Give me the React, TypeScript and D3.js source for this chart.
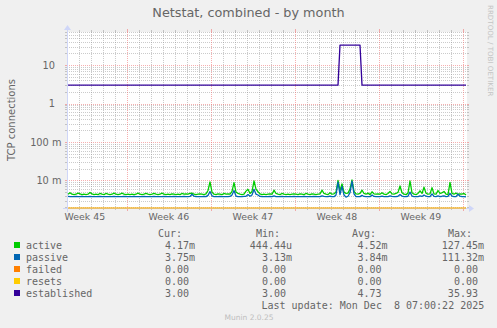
import React from 'react';
import * as d3 from 'd3';

// ---------- data ----------
// samples 4h apart, 200 samples across the month window
const ACTIVE_M = [
  4.4,4.8,4.4,4.3,4.4,4.7,4.5,4.3,4.4,4.3, 4.4,4.9,4.5,4.3,4.4,4.3,4.6,4.4,4.3,4.6,
  4.4,4.3,4.4,4.7,4.4,4.3,4.4,4.7,4.4,4.3, 4.4,4.3,4.4,4.3,4.4,4.7,4.4,4.3,4.4,4.6,
  4.4,4.3,4.4,4.6,4.4,4.3,4.4,4.7,4.4,4.3, 4.4,4.3,4.5,4.4,4.3,4.4,4.3,4.6,4.4,4.5,
  4.4,4.6,4.7,4.4,4.3,4.4,4.5,4.4,4.3,4.5, 5.5,9.2,5.0,4.4,4.3,4.5,4.4,4.3,4.6,4.4,
  4.5,4.4,5.2,8.8,5.0,4.6,4.4,4.3,4.4,5.3, 5.9,4.6,5.2,9.7,6.0,5.1,4.5,4.3,4.4,4.3,
  4.4,4.5,4.4,5.6,4.6,4.4,4.3,4.6,4.4,4.3, 4.4,4.3,4.4,4.5,4.4,4.3,4.5,4.4,4.3,4.6,
  4.4,4.3,4.5,4.4,4.3,4.4,4.5,5.6,4.6,4.4, 4.3,4.8,4.4,4.5,5.0,10.0,5.5,8.2,5.0,4.6,
  4.7,6.0,10.3,5.2,4.5,4.4,4.6,5.6,4.6,4.4, 4.7,4.3,5.1,4.5,4.4,4.5,4.4,4.8,4.4,4.3,
  4.6,5.2,4.5,4.4,4.6,4.9,7.2,4.8,4.4,4.3, 4.7,9.7,4.8,4.4,4.3,4.6,5.4,4.6,6.7,4.7,
  4.4,4.5,6.5,4.5,4.4,5.5,4.6,4.8,5.2,4.4, 4.3,8.9,4.6,4.4,4.7,4.4,4.5,4.4,4.6,4.17,
];

const PASSIVE_M = [
  3.85,3.80,3.82,3.80,3.85,3.80,3.80,3.84,3.80,3.82, 3.80,3.85,3.80,3.82,3.80,3.80,3.85,3.80,3.82,3.80,
  3.80,3.82,3.80,3.85,3.80,3.80,3.82,3.80,3.85,3.80, 3.82,3.80,3.80,3.85,3.80,3.82,3.80,3.80,3.84,3.80,
  3.80,3.82,3.80,3.85,3.80,3.80,3.82,3.80,3.85,3.80, 3.82,3.80,3.80,3.85,3.80,3.82,3.80,3.80,3.84,3.80,
  3.80,3.85,4.40,3.90,3.80,3.82,3.80,3.80,3.85,3.80, 4.10,5.20,4.00,3.80,3.82,3.80,3.85,3.80,3.80,3.82,
  3.80,3.85,4.20,5.50,3.95,3.80,3.82,3.80,3.85,3.90, 4.30,3.90,4.20,5.90,4.40,4.20,3.85,3.80,3.82,3.80,
  3.80,3.85,3.80,4.00,3.82,3.80,3.80,3.85,3.80,3.82, 3.80,3.82,3.80,3.85,3.80,3.80,3.82,3.80,3.85,3.80,
  3.80,3.82,3.80,3.85,3.80,3.82,3.80,4.00,3.85,3.80, 3.80,3.90,3.82,3.80,4.20,9.00,4.30,7.00,4.20,3.70,
  3.90,4.80,9.60,4.50,3.80,3.82,3.80,4.10,3.85,3.80, 3.82,3.80,4.20,3.85,3.80,3.82,3.80,3.90,3.80,3.82,
  3.80,4.00,3.85,3.80,3.82,3.90,4.30,3.95,3.80,3.82, 3.90,5.00,3.95,3.80,3.82,3.80,4.00,3.85,4.20,3.90,
  3.80,3.82,4.50,3.85,3.80,4.00,3.82,3.90,4.00,3.80, 3.85,4.60,3.90,3.80,3.82,4.40,3.90,3.80,3.82,3.75,
];

const FAILED = [
  0,0,0,0,0,0,0,0,0,0,0,0,0,0,0,0,0,0,0,0, 0,0,0,0,0,0,0,0,0,0,0,0,0,0,0,0,0,0,0,0,
  0,0,0,0,0,0,0,0,0,0,0,0,0,0,0,0,0,0,0,0, 0,0,0,0,0,0,0,0,0,0,0,0,0,0,0,0,0,0,0,0,
  0,0,0,0,0,0,0,0,0,0,0,0,0,0,0,0,0,0,0,0, 0,0,0,0,0,0,0,0,0,0,0,0,0,0,0,0,0,0,0,0,
  0,0,0,0,0,0,0,0,0,0,0,0,0,0,0,0,0,0,0,0, 0,0,0,0,0,0,0,0,0,0,0,0,0,0,0,0,0,0,0,0,
  0,0,0,0,0,0,0,0,0,0,0,0,0,0,0,0,0,0,0,0, 0,0,0,0,0,0,0,0,0,0,0,0,0,0,0,0,0,0,0,0,
];
const RESETS = [
  0,0,0,0,0,0,0,0,0,0,0,0,0,0,0,0,0,0,0,0, 0,0,0,0,0,0,0,0,0,0,0,0,0,0,0,0,0,0,0,0,
  0,0,0,0,0,0,0,0,0,0,0,0,0,0,0,0,0,0,0,0, 0,0,0,0,0,0,0,0,0,0,0,0,0,0,0,0,0,0,0,0,
  0,0,0,0,0,0,0,0,0,0,0,0,0,0,0,0,0,0,0,0, 0,0,0,0,0,0,0,0,0,0,0,0,0,0,0,0,0,0,0,0,
  0,0,0,0,0,0,0,0,0,0,0,0,0,0,0,0,0,0,0,0, 0,0,0,0,0,0,0,0,0,0,0,0,0,0,0,0,0,0,0,0,
  0,0,0,0,0,0,0,0,0,0,0,0,0,0,0,0,0,0,0,0, 0,0,0,0,0,0,0,0,0,0,0,0,0,0,0,0,0,0,0,0,
];

const ESTABLISHED = [
  3,3,3,3,3,3,3,3,3,3,3,3,3,3,3,3,3,3,3,3, 3,3,3,3,3,3,3,3,3,3,3,3,3,3,3,3,3,3,3,3,
  3,3,3,3,3,3,3,3,3,3,3,3,3,3,3,3,3,3,3,3, 3,3,3,3,3,3,3,3,3,3,3,3,3,3,3,3,3,3,3,3,
  3,3,3,3,3,3,3,3,3,3,3,3,3,3,3,3,3,3,3,3, 3,3,3,3,3,3,3,3,3,3,3,3,3,3,3,3,3,3,3,3,
  3,3,3,3,3,3,3,3,3,3,3,3,3,3,3,3,33,33,33,33, 33,33,33,33,33,33,33,3,3,3,3,3,3,3,3,3,3,3,3,3,
  3,3,3,3,3,3,3,3,3,3,3,3,3,3,3,3,3,3,3,3, 3,3,3,3,3,3,3,3,3,3,3,3,3,3,3,3,3,3,3,3,
];

const WEEK_LABELS = ['Week 45', 'Week 46', 'Week 47', 'Week 48', 'Week 49'];
const Y_TICK_VALUES = [10, 1, 0.1, 0.01];
const Y_TICK_LABELS = ['10', '1', '100 m', '10 m'];

const SERIES_NAMES = ['active', 'passive', 'failed', 'resets', 'established'];
const SERIES_COLORS = ['#00CC00', '#0066B3', '#FF8000', '#FFCC00', '#330099'];
const CUR = ['4.17m', '3.75m', '0.00', '0.00', '3.00'];
const MIN = ['444.44u', '3.13m', '0.00', '0.00', '3.00'];
const AVG = ['4.52m', '3.84m', '0.00', '0.00', '4.73'];
const MAX = ['127.45m', '111.32m', '0.00', '0.00', '35.93'];

const TITLE = 'Netstat, combined - by month';
const Y_LABEL = 'TCP connections';
const LAST_UPDATE = 'Last update: Mon Dec  8 07:00:22 2025';
const WATERMARK = 'RRDTOOL / TOBI OETIKER';
const MUNIN = 'Munin 2.0.25';

// ---------- layout ----------
const W = 497, H = 328;
const X0 = 67, X1 = 467, Y0 = 208, Y1 = 32;
const HOUR = 3600 * 1000;
const T0 = Date.UTC(2025, 10, 5, 0, 20);
const T1 = T0 + 800 * HOUR;
const STEP = 4 * HOUR;
const YMIN = 0.00193, YMAX = 72;

const SANS = 'DejaVu Sans, sans-serif';
const MONO = 'DejaVu Sans Mono, monospace';
const FONT_COL = '#666666';
const GRID = 'rgba(140,140,140,0.45)';
const MGRID = 'rgba(240,110,110,0.55)';
const AXIS = '#CFD6F8';

export default function App() {
  const x = d3.scaleUtc().domain([T0, T1]).range([X0, X1]);
  const y = d3.scaleLog().domain([YMIN, YMAX]).range([Y0, Y1]);
  const times = ACTIVE_M.map((_, i) => T0 + (i + 0.5) * STEP);

  const line = d3
    .line<number>()
    .x((_, i) => x(times[i]))
    .y((v) => y(Math.max(v, YMIN)));

  const seriesValues = [
    ACTIVE_M.map((v) => v / 1000),
    PASSIVE_M.map((v) => v / 1000),
    FAILED,
    RESETS,
    ESTABLISHED,
  ];

  // horizontal grid (log)
  const hMinor: number[] = [];
  const hMajor: number[] = [];
  for (let e = -3; e <= 1; e++) {
    for (let k = 1; k <= 9; k++) {
      const v = k * Math.pow(10, e);
      if (v < YMIN || v > YMAX) continue;
      (k === 1 ? hMajor : hMinor).push(Math.round(y(v)));
    }
  }
  // vertical grid
  const days = d3.utcDay.range(new Date(T0), new Date(T1)).map((d) => Math.round(x(d)));
  const mondays = d3.utcMonday.range(new Date(Date.UTC(2025, 10, 3)), new Date(T1));
  const weekLines = mondays.map((d) => Math.round(x(d))).filter((px) => px > X0 && px <= X1);
  const dayLines = days.filter((px) => px > X0 && !weekLines.includes(px));

  const valueX = [195, 292, 387.5, 484];
  const headerX = [158, 256, 352, 448];
  const headers = ['Cur:', 'Min:', 'Avg:', 'Max:'];
  const cols = [CUR, MIN, AVG, MAX];
  const hasUnit = (s: string) => /[a-zA-Z]$/.test(s);

  return (
    <svg width={W} height={H} style={{ display: 'block', position: 'absolute', left: 0, top: 0 }}>
      <rect x={0} y={0} width={W} height={H} fill="#F0F0F0" />
      <rect x={X0} y={Y1} width={X1 - X0} height={Y0 - Y1} fill="#FFFFFF" />

      {/* grid */}
      <g shapeRendering="crispEdges" strokeWidth={1}>
        {hMinor.map((py, i) => (
          <g key={'hm' + i}>
            <line x1={X0} x2={X1} y1={py + 0.5} y2={py + 0.5} stroke={GRID} strokeDasharray="1,1" />
            <line x1={X0 - 2} x2={X0} y1={py + 0.5} y2={py + 0.5} stroke={GRID} />
            <line x1={X1} x2={X1 + 2} y1={py + 0.5} y2={py + 0.5} stroke={GRID} />
          </g>
        ))}
        {dayLines.map((px, i) => (
          <g key={'vm' + i}>
            <line x1={px + 0.5} x2={px + 0.5} y1={Y1} y2={Y0} stroke={GRID} strokeDasharray="1,1" />
            <line x1={px + 0.5} x2={px + 0.5} y1={Y0} y2={Y0 + 2} stroke={GRID} />
            <line x1={px + 0.5} x2={px + 0.5} y1={Y1 - 2} y2={Y1} stroke={GRID} />
          </g>
        ))}
        {hMajor.map((py, i) => (
          <g key={'hM' + i}>
            <line x1={X0} x2={X1} y1={py + 0.5} y2={py + 0.5} stroke={MGRID} strokeDasharray="1,1" />
            <line x1={X0 - 2} x2={X0} y1={py + 0.5} y2={py + 0.5} stroke={MGRID} />
            <line x1={X1} x2={X1 + 2} y1={py + 0.5} y2={py + 0.5} stroke={MGRID} />
          </g>
        ))}
        {weekLines.map((px, i) => (
          <g key={'vM' + i}>
            <line x1={px + 0.5} x2={px + 0.5} y1={Y1} y2={Y0} stroke={MGRID} strokeDasharray="1,1" />
            <line x1={px + 0.5} x2={px + 0.5} y1={Y0} y2={Y0 + 3} stroke={MGRID} />
            <line x1={px + 0.5} x2={px + 0.5} y1={Y1 - 3} y2={Y1} stroke={MGRID} />
          </g>
        ))}
      </g>

      {/* axes */}
      <line x1={X0 - 4} x2={X1 + 4} y1={Y0 + 0.5} y2={Y0 + 0.5} stroke={AXIS} strokeWidth={1} shapeRendering="crispEdges" />
      <line x1={X0 + 0.5} x2={X0 + 0.5} y1={Y0 + 4} y2={Y1 - 4} stroke={AXIS} strokeWidth={1} shapeRendering="crispEdges" />
      <path d={`M${X1 + 2},${Y0 - 3} L${X1 + 2},${Y0 + 4} L${X1 + 7},${Y0 + 0.5} Z`} fill={AXIS} />
      <path d={`M${X0 - 3},${Y1 - 2} L${X0 + 4},${Y1 - 2} L${X0 + 0.5},${Y1 - 7} Z`} fill={AXIS} />

      {/* data lines */}
      <g fill="none" strokeWidth={1.3} strokeLinejoin="round">
        {seriesValues.map((vals, si) => (
          <path
            key={si}
            d={line(vals) || ''}
            stroke={SERIES_COLORS[si]}
            opacity={si === 2 || si === 3 ? 0.45 : 1}
          />
        ))}
      </g>

      {/* title */}
      <text x={W / 2} y={17} textAnchor="middle" fontFamily={SANS} fontSize={12.8} fill={FONT_COL}>
        {TITLE}
      </text>

      {/* y label */}
      <text
        transform={`translate(14.5, ${(Y0 + Y1) / 2}) rotate(-90)`}
        textAnchor="middle"
        fontFamily={SANS}
        fontSize={10}
        fill={FONT_COL}
      >
        {Y_LABEL}
      </text>

      {/* y tick labels */}
      {Y_TICK_VALUES.map((v, i) => (
        <text
          key={'yt' + i}
          x={hasUnit(Y_TICK_LABELS[i]) ? 61.5 : 55}
          y={y(v) + 3.6}
          textAnchor="end"
          fontFamily={SANS}
          fontSize={9.8}
          fill={FONT_COL}
        >
          {Y_TICK_LABELS[i]}
        </text>
      ))}

      {/* week labels */}
      {WEEK_LABELS.map((lab, i) => (
        <text
          key={'wl' + i}
          x={x(mondays[i].getTime() + 3.5 * 24 * HOUR)}
          y={220}
          textAnchor="middle"
          fontFamily={SANS}
          fontSize={9.4}
          fill={FONT_COL}
        >
          {lab}
        </text>
      ))}

      {/* watermark */}
      <text
        transform={`translate(487.5, 5) rotate(90)`}
        fontFamily={SANS}
        fontSize={7.1}
        fill="#C4C4C4"
      >
        {WATERMARK}
      </text>

      {/* legend */}
      <g fontFamily={MONO} fontSize={10} fill={FONT_COL}>
        {headers.map((h, i) => (
          <text key={'h' + i} x={headerX[i]} y={237}>
            {h}
          </text>
        ))}
        {SERIES_NAMES.map((name, r) => {
          const by = 249 + r * 12;
          return (
            <g key={'lg' + r}>
              <rect x={14} y={by - 7} width={6} height={6} fill={SERIES_COLORS[r]} />
              <text x={26} y={by}>
                {name}
              </text>
              {cols.map((col, c) => (
                <text
                  key={c}
                  x={hasUnit(col[r]) ? valueX[c] : valueX[c] - 6.02}
                  y={by}
                  textAnchor="end"
                >
                  {col[r]}
                </text>
              ))}
            </g>
          );
        })}
        <text x={261.5} y={309} style={{ whiteSpace: 'pre' }}>
          {LAST_UPDATE}
        </text>
      </g>

      <text x={249} y={320} textAnchor="middle" fontFamily={SANS} fontSize={7.5} fill="#BEBEBE">
        {MUNIN}
      </text>
    </svg>
  );
}
